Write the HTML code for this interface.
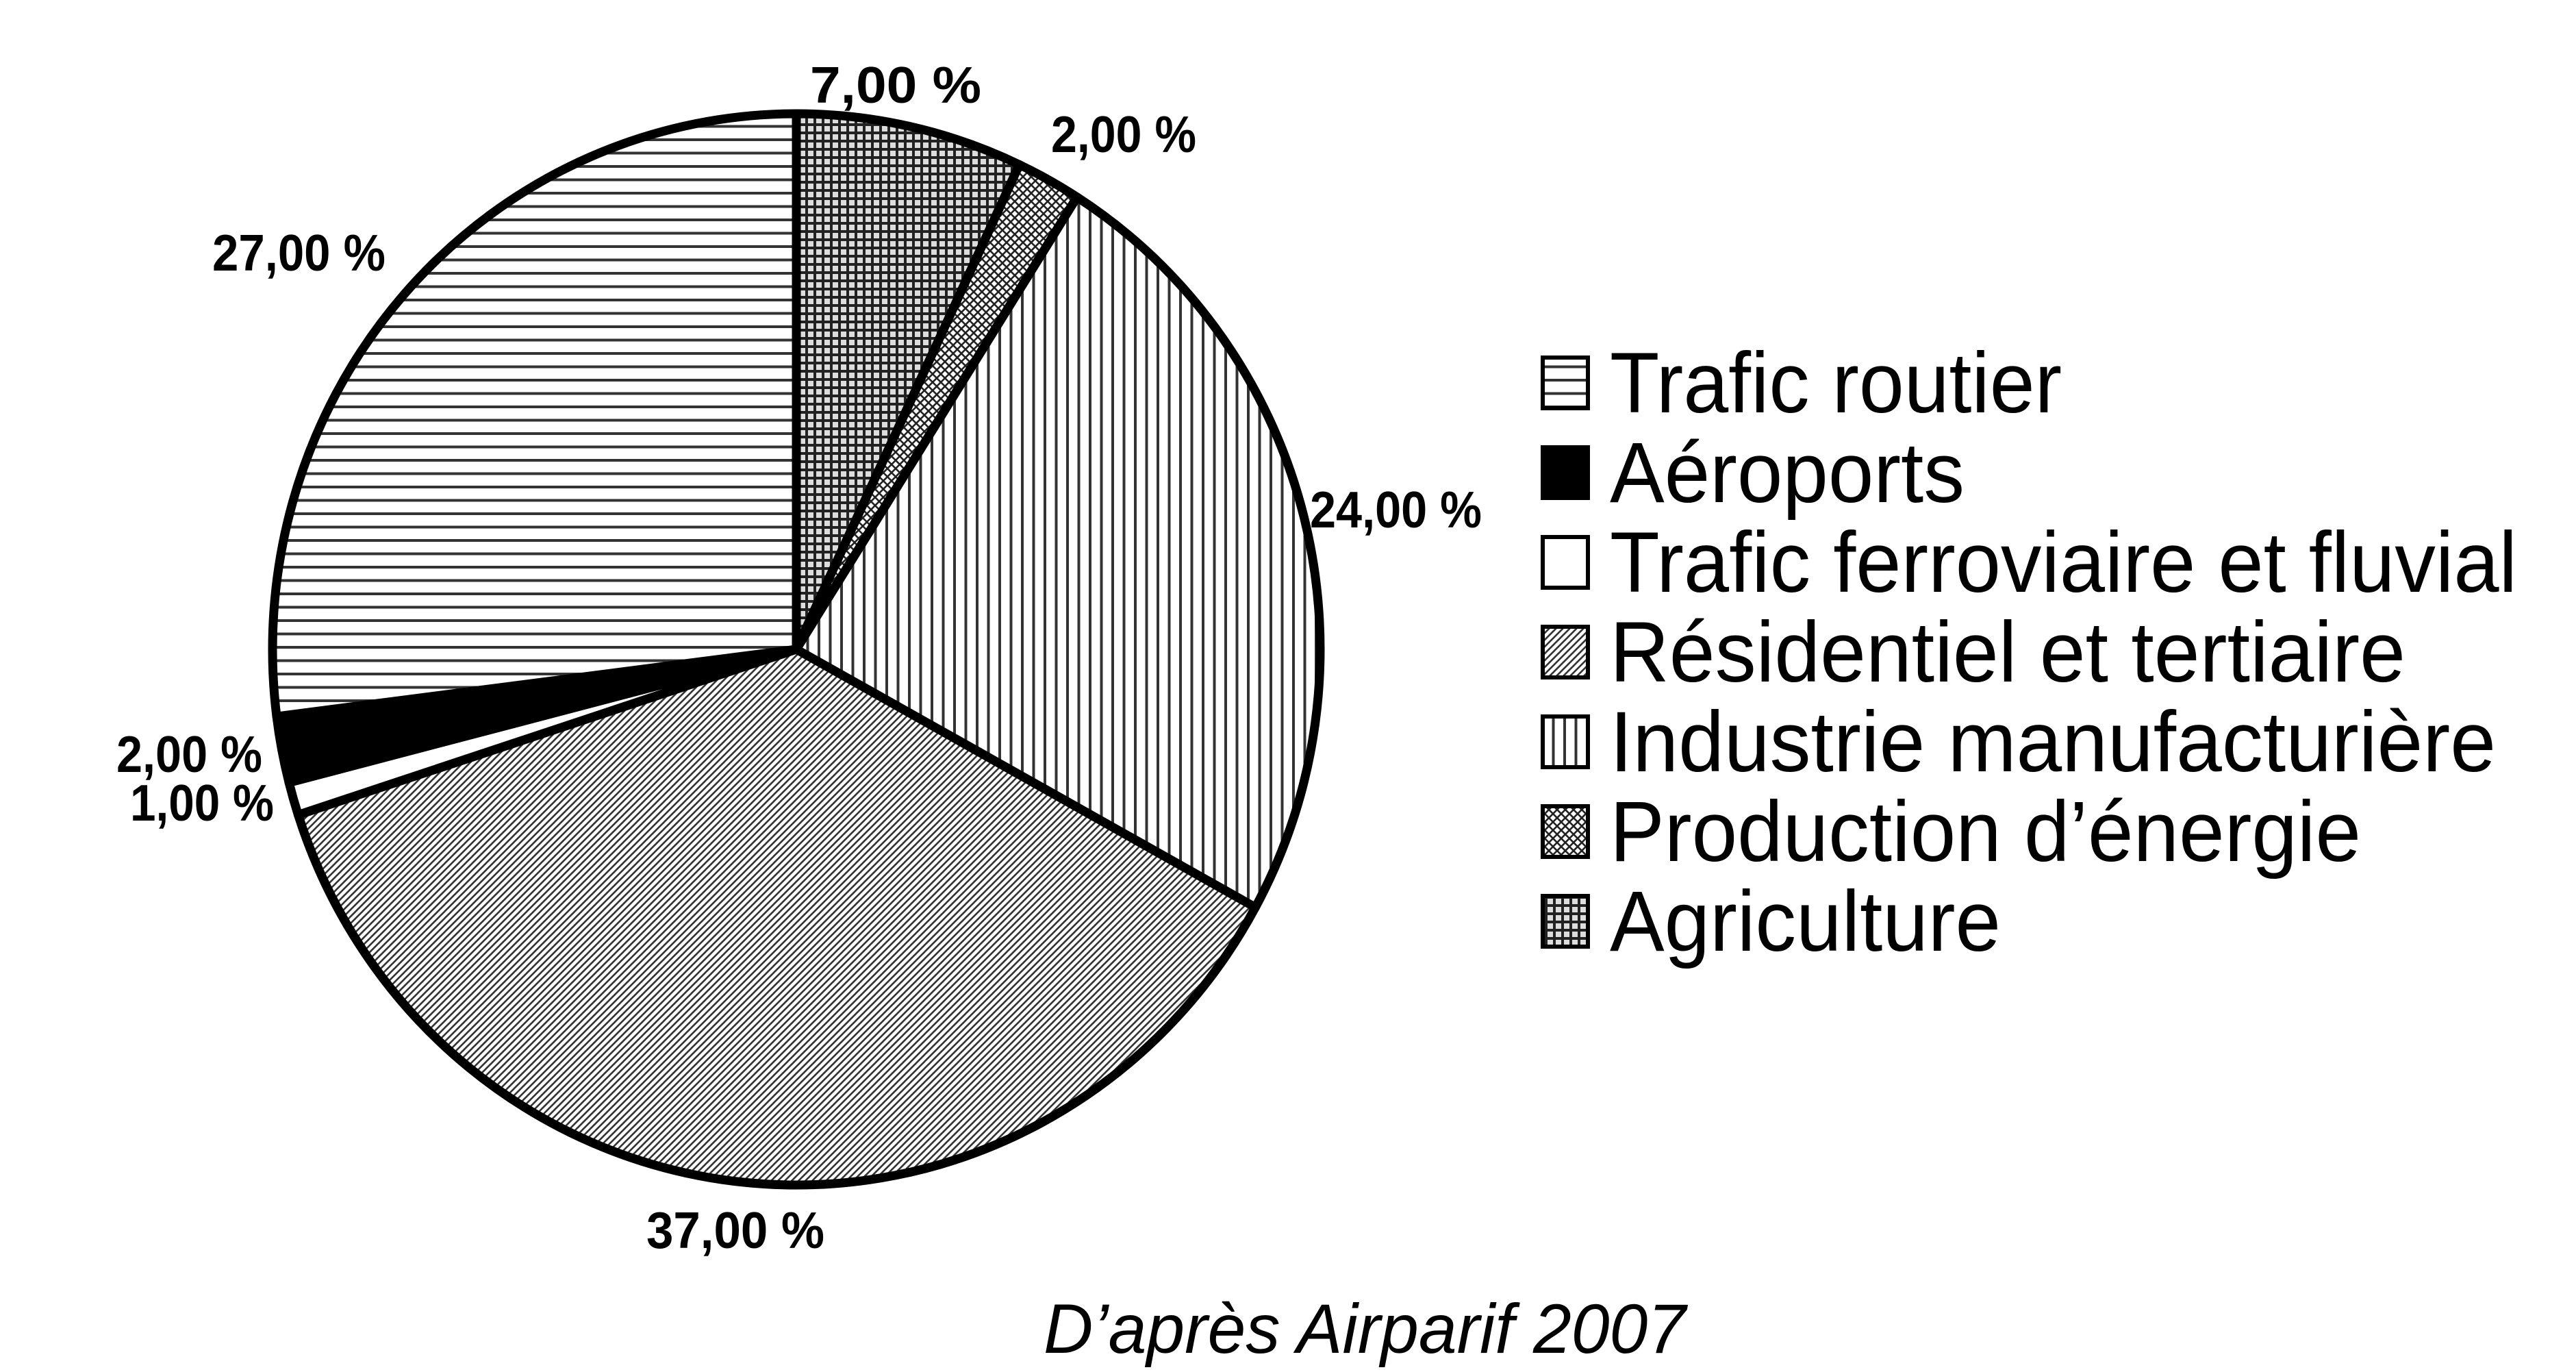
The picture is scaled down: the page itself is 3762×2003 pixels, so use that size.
<!DOCTYPE html>
<html><head><meta charset="utf-8"><style>
html,body{margin:0;padding:0;background:#fff;}
svg{display:block;}
</style></head><body>
<svg id="chart" width="3762" height="2003" viewBox="0 0 3762 2003" xmlns="http://www.w3.org/2000/svg">
<defs>
  <pattern id="p-routier" patternUnits="userSpaceOnUse" width="20" height="19.5">
    <rect width="20" height="19.5" fill="#fff"/><line x1="0" y1="9" x2="20" y2="9" stroke="#333" stroke-width="4"/>
  </pattern>
  <pattern id="p-indus" patternUnits="userSpaceOnUse" width="16.5" height="20">
    <rect width="16.5" height="20" fill="#fff"/><line x1="8" y1="0" x2="8" y2="20" stroke="#333" stroke-width="4"/>
  </pattern>
  <pattern id="p-res" patternUnits="userSpaceOnUse" width="10" height="10">
    <rect width="10" height="10" fill="#fff"/>
    <path d="M-1,11 L11,-1 M-3,3 L3,-3 M7,13 L13,7" stroke="#333" stroke-width="2.6"/>
  </pattern>
  <pattern id="p-prod" patternUnits="userSpaceOnUse" width="12" height="12">
    <rect width="12" height="12" fill="#fff"/>
    <path d="M0,0 L12,12 M12,0 L0,12" stroke="#222" stroke-width="2.6"/>
  </pattern>
  <pattern id="p-agri" patternUnits="userSpaceOnUse" width="12" height="12">
    <rect width="12" height="12" fill="#ddd"/>
    <path d="M0,1.5 L12,1.5 M1.5,0 L1.5,12" stroke="#222" stroke-width="5"/>
  </pattern>
</defs>
<g id="slices"></g>
<g id="labels"></g>
<g id="legend"></g>
<text x="1524" y="1975" font-family="Liberation Sans, sans-serif" font-style="italic" font-size="102" textLength="938" lengthAdjust="spacingAndGlyphs">D’après Airparif 2007</text>
</svg>
<script>
const categories = ["Agriculture","Production d’énergie","Industrie manufacturière","Résidentiel et tertiaire","Trafic ferroviaire et fluvial","Aéroports","Trafic routier"];
const values = [7, 2, 24, 37, 1, 2, 27];
const legendOrder = ["Trafic routier","Aéroports","Trafic ferroviaire et fluvial","Résidentiel et tertiaire","Industrie manufacturière","Production d’énergie","Agriculture"];
const legendWidths = [660, 518, 1325, 1162, 1294, 1097, 571];
const fills = {"Agriculture":"url(#p-agri)","Production d’énergie":"url(#p-prod)","Industrie manufacturière":"url(#p-indus)","Résidentiel et tertiaire":"url(#p-res)","Trafic ferroviaire et fluvial":"#fff","Aéroports":"#000","Trafic routier":"url(#p-routier)"};
const labelLayout = [[1183,150,250],[1535,222,212],[1913,770,251],[944,1822,260],[190,1198,210],[170,1127,213],[310,395,253]];

const NS = "http://www.w3.org/2000/svg";
const cx = 1163, cy = 948, rx = 765, ry = 782;
const total = values.reduce((a,b)=>a+b,0);
function angle(v){ return v/total*2*Math.PI; }
function pt(a){ return [cx + rx*Math.sin(a), cy - ry*Math.cos(a)]; }
function fmt(v){ return v.toFixed(2).replace('.', ',') + ' %'; }

const gS = document.getElementById('slices');
const gL = document.getElementById('labels');
let acc = 0;
values.forEach((v,i)=>{
  const a0 = angle(acc), a1 = angle(acc+v); acc += v;
  const p0 = pt(a0), p1 = pt(a1);
  const large = (a1-a0) > Math.PI ? 1 : 0;
  const path = document.createElementNS(NS,'path');
  path.setAttribute('d', `M${cx},${cy} L${p0[0]},${p0[1]} A${rx},${ry} 0 ${large} 1 ${p1[0]},${p1[1]} Z`);
  path.setAttribute('fill', fills[categories[i]]);
  path.setAttribute('stroke', '#000');
  path.setAttribute('stroke-width', '13');
  path.setAttribute('stroke-linejoin', 'round');
  
  
  gS.appendChild(path);

  const L = labelLayout[i];
  const t = document.createElementNS(NS,'text');
  t.setAttribute('x', L[0]); t.setAttribute('y', L[1]);
  t.setAttribute('font-family', 'Liberation Sans, sans-serif');
  t.setAttribute('font-weight', 'bold');
  t.setAttribute('font-size', '75');
  t.setAttribute('textLength', L[2]);
  t.setAttribute('lengthAdjust', 'spacingAndGlyphs');
  t.textContent = fmt(v);
  
  
  gL.appendChild(t);
});

const gG = document.getElementById('legend');
legendOrder.forEach((name,i)=>{
  const y0 = 522 + i*131;
  const g = document.createElementNS(NS,'g');
  
  
  const r = document.createElementNS(NS,'rect');
  r.setAttribute('x', 2253); r.setAttribute('y', y0);
  r.setAttribute('width', 66); r.setAttribute('height', 74);
  r.setAttribute('fill', fills[name]);
  r.setAttribute('stroke', '#000'); r.setAttribute('stroke-width', '6');
  
  
  g.appendChild(r);
  const t = document.createElementNS(NS,'text');
  t.setAttribute('x', 2351); t.setAttribute('y', y0 + 80);
  t.setAttribute('font-family', 'Liberation Sans, sans-serif');
  t.setAttribute('font-size', '125');
  t.setAttribute('textLength', legendWidths[i]);
  t.setAttribute('lengthAdjust', 'spacingAndGlyphs');
  t.textContent = name;
  
  
  g.appendChild(t);
  gG.appendChild(g);
});
</script>
</body></html>
